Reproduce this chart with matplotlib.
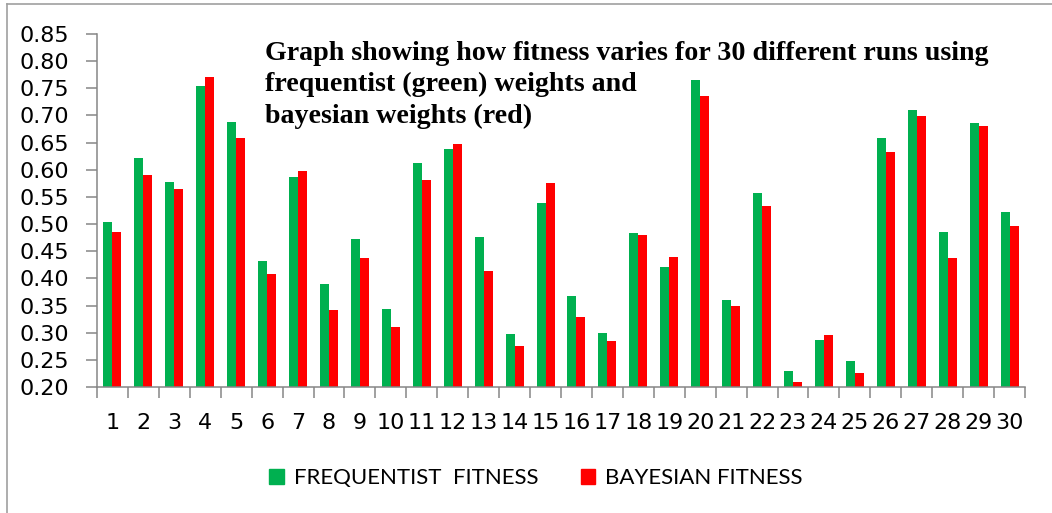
import numpy as np
import matplotlib
matplotlib.use("Agg")
import matplotlib.pyplot as plt
from matplotlib.lines import Line2D
from matplotlib.patches import Patch

runs = [str(i) for i in range(1, 31)]
frequentist = [0.503, 0.622, 0.577, 0.755, 0.688, 0.432, 0.587, 0.389, 0.473, 0.343,
               0.612, 0.638, 0.476, 0.298, 0.538, 0.368, 0.299, 0.484, 0.421, 0.765,
               0.360, 0.558, 0.230, 0.287, 0.248, 0.659, 0.710, 0.486, 0.687, 0.522]
bayesian = [0.485, 0.590, 0.565, 0.770, 0.659, 0.408, 0.598, 0.342, 0.437, 0.311,
            0.581, 0.648, 0.413, 0.276, 0.575, 0.329, 0.285, 0.480, 0.439, 0.735,
            0.349, 0.533, 0.209, 0.296, 0.226, 0.633, 0.699, 0.437, 0.681, 0.497]
y_ticks = [0.20, 0.25, 0.30, 0.35, 0.40, 0.45, 0.50, 0.55, 0.60, 0.65, 0.70, 0.75, 0.80, 0.85]

GREEN = "#00B050"
RED = "#FF0000"
GREY = "#868686"

W, H = 1052, 513
fig = plt.figure(figsize=(W / 100, H / 100), dpi=100)
ax = fig.add_axes([97 / W, 1 - 387 / H, (1025 - 97) / W, (387 - 34) / H])

x = np.arange(len(runs))
bw = 0.29
ax.bar(x - bw / 2, np.array(frequentist) - 0.2, bw, bottom=0.2, color=GREEN, zorder=2)
ax.bar(x + bw / 2, np.array(bayesian) - 0.2, bw, bottom=0.2, color=RED, zorder=2)

ax.set_xlim(-0.5, len(runs) - 0.5)
ax.set_ylim(0.2, 0.85)
ax.set_yticks(y_ticks)
ax.set_yticklabels([f"{v:.2f}" for v in y_ticks])
ax.set_xticks(x)
ax.set_xticklabels(runs)
ax.set_xticks(np.arange(-0.5, len(runs), 1.0), minor=True)

for side in ("top", "right"):
    ax.spines[side].set_visible(False)
for side in ("left", "bottom"):
    ax.spines[side].set_color(GREY)
    ax.spines[side].set_linewidth(1.1)

ax.tick_params(axis="y", direction="out", length=8, width=1.1, color=GREY,
               labelsize=16, pad=12, labelcolor="black")
ax.tick_params(axis="x", which="major", length=0, labelsize=16, pad=19, labelcolor="black")
ax.tick_params(axis="x", which="minor", direction="out", length=8, width=1.1, color=GREY)

fig.text(265 / W, 1 - 41 / H,
         "Graph showing how fitness varies for 30 different runs using\n"
         "frequentist (green) weights and\n"
         "bayesian weights (red)",
         ha="left", va="top", fontsize=20.2, fontweight="bold",
         family="Liberation Serif", linespacing=1.33)

handles = [Patch(color=GREEN, label="FREQUENTIST  FITNESS"),
           Patch(color=RED, label="BAYESIAN FITNESS")]
fig.legend(handles=handles, loc="center", bbox_to_anchor=(536 / W, 1 - 478 / H),
           ncol=2, frameon=False, prop={"family": "Lato", "size": 16},
           handlelength=0.65, handleheight=0.65, handletextpad=0.45, columnspacing=1.9)

# outer chart border
fig.add_artist(Line2D([7 / W, 1], [1 - 4 / H, 1 - 4 / H], color="#A0A0A0", lw=1.2))
fig.add_artist(Line2D([7 / W, 7 / W], [0, 1 - 4 / H], color="#A0A0A0", lw=1.2))

fig.savefig("out.png", dpi=100)
